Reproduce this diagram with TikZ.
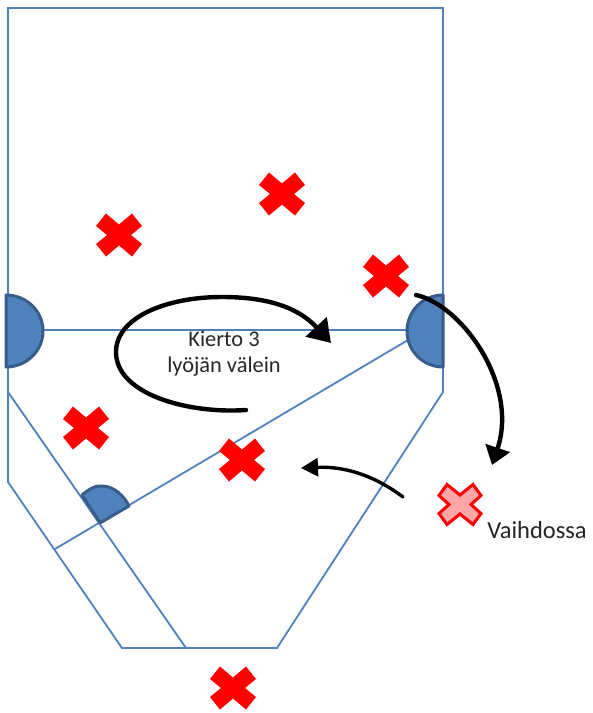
\documentclass[tikz,border=0pt]{standalone}
\usepackage{fontspec}
\setmainfont{Carlito}
\usetikzlibrary{arrows.meta}
\definecolor{lineblue}{RGB}{79,129,189}
\definecolor{discfill}{RGB}{79,129,189}
\definecolor{discedge}{RGB}{56,93,138}
\tikzset{
  court/.style={draw=lineblue,line width=1.8pt,line join=miter},
  disc/.style={fill=discfill,draw=discedge,line width=3pt,line join=round},
  sweep/.style={draw=black,line width=4.4pt,line cap=round,-{Triangle[length=22pt,width=28pt]}},
  sweepright/.style={draw=black,line width=4.4pt,line cap=round,-{Triangle[length=18pt,width=25pt]}},
  sweepthin/.style={draw=black,line width=3.4pt,line cap=round,-{Triangle[length=17pt,width=18pt]}},
  label/.style={text=black!85,align=center,inner sep=0pt},
  player/.pic={\fill[red] (-13,-21.5)--(0,-10.5)--(13,-21.5)--(23,-9)--(12,0)--(23,9)--(13,21.5)--(0,10.5)--(-13,21.5)--(-23,9)--(-12,0)--(-23,-9)--cycle;},
  bench/.pic={\draw[red,fill=red!35!white,line width=3pt,line join=miter] (-13,-20)--(0,-9.5)--(13,-20)--(21,-9)--(11,0)--(21,9)--(13,20)--(0,9.5)--(-13,20)--(-21,9)--(-11,0)--(-21,-9)--cycle;}
}
\begin{document}
\begin{tikzpicture}[x=1pt,y=-1pt]
\useasboundingbox (0,0) rectangle (593,713);
% court
\draw[court] (8,8)--(443,8)--(443,392)--(277,648)--(122,648)--(8,482)--cycle;
\draw[court] (8,392)--(186,648);
\draw[court] (8,330)--(443,330);
\draw[court] (55,549)--(408,340);
% discs
\draw[disc] (6,295) arc[start angle=-90,end angle=90,x radius=37,y radius=36] --cycle;
\draw[disc] (443,295) arc[start angle=90,end angle=270,x radius=36,y radius=-36] --cycle;
\draw[disc] (100,523)--(82,495) .. controls (90,488) and (97,485) .. (103,486) .. controls (115,487) and (124,496) .. (129,506) --cycle;
% players
\pic at (119,235) {player};
\pic at (282,194) {player};
\pic at (386,276) {player};
\pic at (86,428) {player};
\pic at (242,460) {player};
\pic at (233,688) {player};
\pic at (460,504.5) {bench};
% labels
\node[label,font=\fontsize{22.4}{26}\selectfont] (rot) at (224,354) {Kierto 3\\lyöjän välein};
\node[label,font=\fontsize{24.5}{28}\selectfont] (sub) at (537,530) {Vaihdossa};
% arrows
\coordinate (a1) at (246,410);
\coordinate (a2) at (331,343);
\coordinate (b1) at (416,295);
\coordinate (b2) at (492,465);
\coordinate (c1) at (403,497);
\coordinate (c2) at (301,468);
\draw[sweep] (a1) .. controls (190,414) and (116,395) .. (116,352) .. controls (116,318) and (165,297) .. (222,297) .. controls (262,297) and (296,305) .. (a2);
\draw[sweepright] (b1) .. controls (462,305) and (519,385) .. (b2);
\draw[sweepthin] (c1) .. controls (378,478) and (348,466) .. (c2);
\end{tikzpicture}
\end{document}
